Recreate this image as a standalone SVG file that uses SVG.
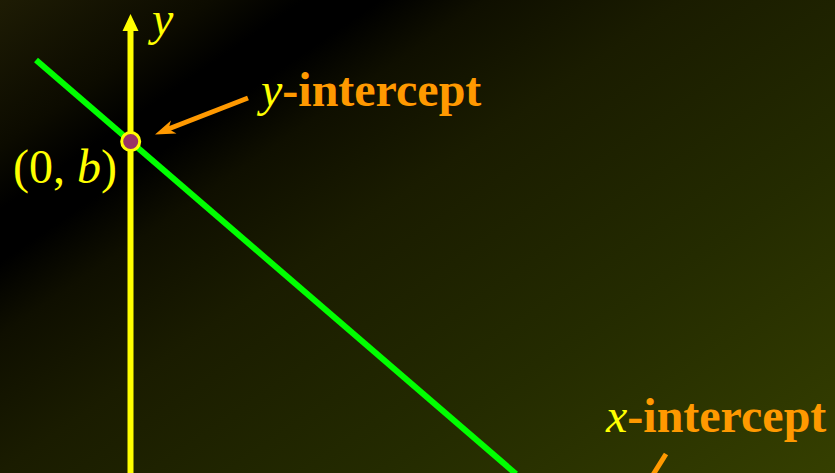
<svg xmlns="http://www.w3.org/2000/svg" width="835" height="473" viewBox="0 0 835 473">
  <defs>
    <linearGradient id="bg" gradientUnits="userSpaceOnUse" x1="0" y1="0" x2="490" y2="711">
      <stop offset="0" stop-color="#1e1c04"/>
      <stop offset="0.14" stop-color="#0c0b00"/>
      <stop offset="0.2" stop-color="#000000"/>
      <stop offset="0.25" stop-color="#000000"/>
      <stop offset="0.32" stop-color="#0f0f00"/>
      <stop offset="0.45" stop-color="#1a1c00"/>
      <stop offset="0.7" stop-color="#242b00"/>
      <stop offset="1" stop-color="#353f00"/>
    </linearGradient>
    <style>
      .axis { stroke: #ffff00; stroke-width: 6; fill: none; }
      .line { stroke: #00ff00; stroke-width: 6; fill: none; }
      .pointer { stroke: #ff9900; stroke-width: 5; fill: none; }
      .head { fill: #ff9900; }
      .lbl { font-family: "Liberation Serif", "Times New Roman", serif; font-size: 48px; }
      .var { fill: #ffff00; font-style: italic; }
      .word { fill: #ff9900; font-weight: bold; }
      .coord { fill: #ffff00; }
    </style>
  </defs>
  <rect width="835" height="473" fill="url(#bg)"/>

  <g id="y-axis">
    <line class="axis" x1="130.5" y1="28" x2="130.5" y2="473"/>
    <polygon points="130.5,14 138.5,31 122.5,31" fill="#ffff00"/>
    <text class="lbl var" x="152" y="35">y</text>
  </g>

  <g id="graph-line">
    <line class="line" x1="36" y1="60" x2="516" y2="474"/>
  </g>

  <g id="y-intercept-point">
    <circle cx="130.7" cy="141.5" r="9" fill="#993366" stroke="#ffff00" stroke-width="3"/>
    <text class="lbl coord" x="13" y="183">(0, <tspan font-style="italic">b</tspan>)</text>
  </g>

  <g id="connectors">
    <line class="pointer" x1="248" y1="98" x2="167" y2="129.5"/>
    <polygon class="head" points="155,134.5 176.5,133.5 168.5,129 171,120.5"/>
    <line class="pointer" x1="666" y1="454" x2="651" y2="478"/>
  </g>

  <g id="y-intercept-label">
    <text class="lbl" x="261" y="106"><tspan class="var">y</tspan><tspan class="word">-intercept</tspan></text>
  </g>

  <g id="x-intercept-label">
    <text class="lbl" x="606" y="432"><tspan class="var">x</tspan><tspan class="word">-intercept</tspan></text>
  </g>
</svg>
